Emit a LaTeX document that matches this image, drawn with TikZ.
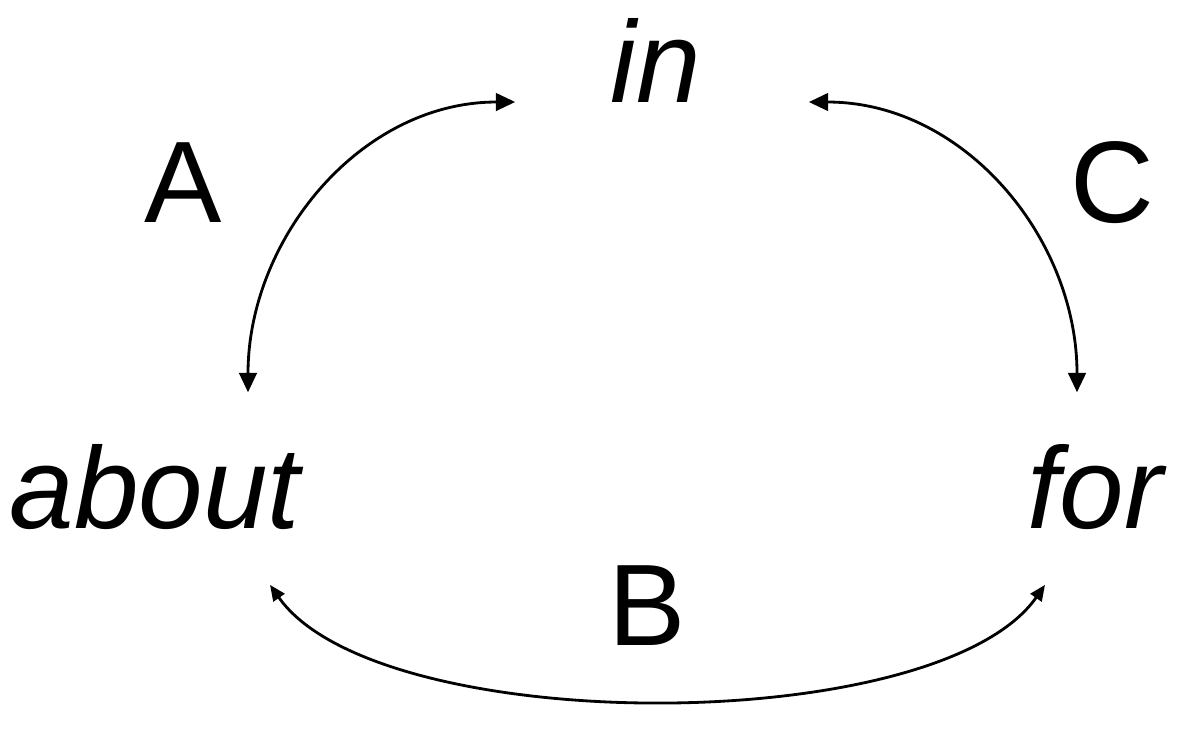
\documentclass[tikz,border=0pt]{standalone}
\usepackage{fontspec}
\setmainfont{Liberation Sans}
\usepackage{tikz}
\usetikzlibrary{arrows.meta,positioning}

\begin{document}
\begin{tikzpicture}[
  word/.style={font=\fontsize{33}{40}\selectfont\itshape,anchor=base,inner sep=0pt},
  letter/.style={font=\fontsize{33}{40}\selectfont,anchor=base,inner sep=0pt},
  link/.style={{Triangle[length=5.5pt,width=5pt]}-{Triangle[length=5.5pt,width=5pt]},line width=0.8pt},
  linkB/.style={{Triangle[length=4.5pt,width=3.8pt]}-{Triangle[length=4.5pt,width=3.8pt]},line width=0.8pt},
]
\useasboundingbox (0,0) rectangle (11.79,-7.35);
\node[word] (in) at (6.56,-1.02) {in};
\node[word] (about) at (1.55,-5.28) {about};
\node[word] (for) at (10.95,-5.28) {for};
\node[letter] (A) at (1.83,-2.22) {A};
\node[letter] (B) at (6.47,-6.45) {B};
\node[letter] (C) at (11.12,-2.22) {C};
\draw[link] ([xshift=0.93cm,yshift=0.51cm]about.north) to[out=90,in=180]
  ([xshift=-0.95cm]in.base west);
\draw[link] ([xshift=1.07cm]in.base east) to[out=0,in=90]
  ([xshift=-0.18cm,yshift=0.51cm]for.north);
\draw[linkB] ([xshift=1.15cm,yshift=-0.55cm]about.south) to[out=-55,in=-125,looseness=0.62]
  ([xshift=-0.5cm,yshift=-0.55cm]for.south);
\end{tikzpicture}
\end{document}
